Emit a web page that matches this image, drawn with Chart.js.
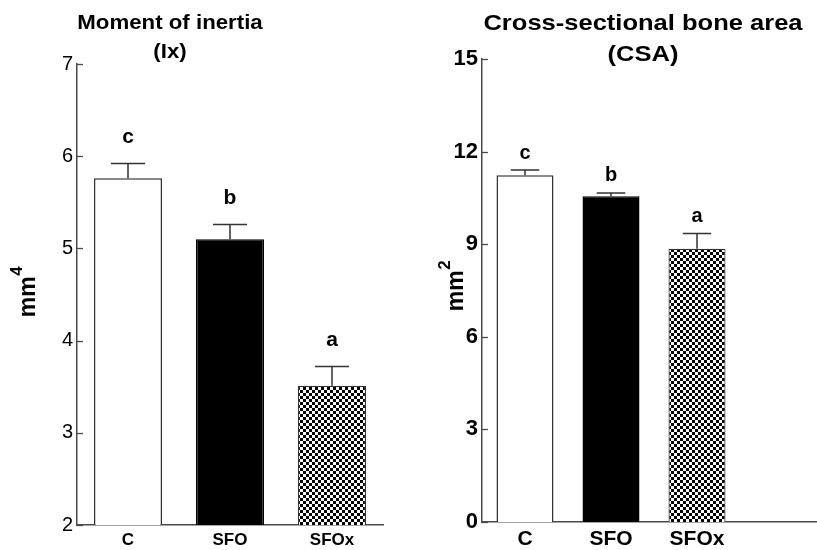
<!DOCTYPE html>
<html>
<head>
<meta charset="utf-8">
<script src="https://cdn.jsdelivr.net/npm/chart.js@4.4.1/dist/chart.umd.min.js"></script>
<style>
  html, body { margin: 0; padding: 0; background: #fff; overflow: hidden; width: 817px; height: 550px; }
  #c1 { position: absolute; left: 0; top: 0; }
  #c2 { position: absolute; left: 410px; top: 0; }
</style>
</head>
<body>
<canvas id="c1" width="410" height="550"></canvas>
<canvas id="c2" width="420" height="550"></canvas>
<script>
// ---- data ----
const categories = ['C', 'SFO', 'SFOx'];
const inertiaMean = [5.76, 5.10, 3.51];
const inertiaErr = [0.16, 0.16, 0.21];
const csaMean = [11.23, 10.55, 8.85];
const csaErr = [0.17, 0.11, 0.50];
const sigLetters = ['c', 'b', 'a'];
const inertiaTicks = [2, 3, 4, 5, 6, 7];
const csaTicks = [0, 3, 6, 9, 12, 15];
const inertiaTitle = ['Moment of inertia', '(Ix)'];
const csaTitle = ['Cross-sectional bone area', '(CSA)'];
const inertiaUnit = ['mm', '4'];
const csaUnit = ['mm', '2'];

const FONT = "'Liberation Sans', Arial, sans-serif";

function checker(cell) {
  const c = document.createElement('canvas');
  c.width = c.height = cell * 2;
  const g = c.getContext('2d');
  g.fillStyle = '#fff'; g.fillRect(0, 0, cell * 2, cell * 2);
  g.fillStyle = '#000'; g.fillRect(0, 0, cell, cell); g.fillRect(cell, cell, cell, cell);
  return g.createPattern(c, 'repeat');
}

const decorPlugin = {
  id: 'decor',
  afterDatasetsDraw(chart, args, o) {
    const ctx = chart.ctx;
    const ys = chart.scales.y;
    const area = chart.chartArea;
    const meta = chart.getDatasetMeta(0);
    ctx.save();
    // inside tick marks
    ctx.strokeStyle = '#4a4a4a';
    ctx.lineWidth = 1.3;
    ys.ticks.forEach((t, i) => {
      const y = Math.round(ys.getPixelForTick(i)) + 0.5;
      ctx.beginPath(); ctx.moveTo(area.left, y); ctx.lineTo(area.left + 6, y); ctx.stroke();
    });
    // error bars + letters
    meta.data.forEach((el, i) => {
      const topV = o.means[i] + o.errs[i];
      const yTop = ys.getPixelForValue(topV);
      const yBar = ys.getPixelForValue(o.means[i]);
      const half = el.width / 4;
      ctx.strokeStyle = '#333';
      ctx.lineWidth = 1.5;
      ctx.beginPath();
      ctx.moveTo(el.x, yBar); ctx.lineTo(el.x, yTop);
      ctx.moveTo(el.x - half, yTop); ctx.lineTo(el.x + half, yTop);
      ctx.stroke();
      ctx.fillStyle = '#000';
      ctx.font = 'bold ' + o.letterSize + 'px ' + FONT;
      ctx.textAlign = 'center';
      ctx.textBaseline = 'middle';
      ctx.fillText(o.letters[i], el.x, yTop - o.letterGap);
    });
    // title
    ctx.fillStyle = '#000';
    ctx.font = 'bold ' + o.titleSize + 'px ' + FONT;
    ctx.textAlign = 'center';
    ctx.textBaseline = 'middle';
    o.title.forEach((line, k) => {
      ctx.save();
      ctx.translate(o.titleX, o.titleY[k]);
      ctx.scale(o.titleScale, 1);
      ctx.fillText(line, 0, 0);
      ctx.restore();
    });
    // y unit label (rotated, with superscript)
    ctx.save();
    ctx.translate(o.unitX, o.unitY);
    ctx.rotate(-Math.PI / 2);
    ctx.textAlign = 'left';
    ctx.textBaseline = 'alphabetic';
    ctx.font = 'bold 23px ' + FONT;
    const w1 = ctx.measureText(o.unit[0]).width;
    ctx.font = 'bold 17px ' + FONT;
    const w2 = ctx.measureText(o.unit[1]).width;
    const start = -(w1 + w2) / 2;
    ctx.font = 'bold 23px ' + FONT;
    ctx.fillText(o.unit[0], start, 5);
    ctx.font = 'bold 17px ' + FONT;
    ctx.fillText(o.unit[1], start + w1 + 0.5, -8);
    ctx.restore();
    ctx.restore();
  }
};

function makeChart(id, cfg) {
  return new Chart(document.getElementById(id), {
    type: 'bar',
    data: {
      labels: cfg.labels,
      datasets: [{
        data: cfg.means,
        backgroundColor: ['#ffffff', '#000000', checker(3)],
        borderColor: ['#333333', '#000000', '#333333'],
        borderWidth: [1.5, 1.5, 1.2],
        barPercentage: cfg.barPct,
        categoryPercentage: 1
      }]
    },
    options: {
      responsive: false,
      animation: false,
      devicePixelRatio: 1,
      layout: { padding: { top: cfg.top, right: cfg.right, left: 0, bottom: 0 } },
      plugins: {
        legend: { display: false },
        tooltip: { enabled: false },
        title: { display: false },
        decor: cfg.decor
      },
      scales: {
        x: {
          grid: { display: false, drawTicks: false },
          border: { display: true, color: '#4a4a4a', width: 1.5 },
          ticks: { color: '#000', font: { family: FONT, size: cfg.xFont, weight: 'bold' }, padding: cfg.xPad, maxRotation: 0, autoSkip: false },
          afterFit: s => { s.height = cfg.xH; }
        },
        y: {
          min: cfg.ticks[0],
          max: cfg.ticks[cfg.ticks.length - 1],
          afterBuildTicks: s => { s.ticks = cfg.ticks.map(v => ({ value: v })); },
          grid: { display: false, drawTicks: false },
          border: { display: true, color: '#4a4a4a', width: 1.5 },
          ticks: { color: '#000', font: { family: FONT, size: cfg.yFont, weight: cfg.yWeight }, padding: 4 },
          afterFit: s => { s.width = cfg.yW; }
        }
      }
    },
    plugins: [decorPlugin]
  });
}

makeChart('c1', {
  labels: categories,
  means: inertiaMean,
  barPct: 0.667,
  top: 64, right: 27,
  xFont: 17, xPad: 5, xH: 25,
  yFont: 20, yWeight: 'normal', yW: 77,
  ticks: inertiaTicks,
  decor: {
    means: inertiaMean, errs: inertiaErr, letters: sigLetters,
    letterSize: 21, letterGap: 26,
    title: inertiaTitle, titleSize: 21, titleScale: 1.06, titleX: 170, titleY: [23, 52],
    unit: inertiaUnit, unitX: 30, unitY: 292
  }
});

makeChart('c2', {
  labels: categories.concat(['']),
  means: csaMean,
  barPct: 0.663,
  top: 59, right: 4,
  xFont: 21, xPad: 5, xH: 28,
  yFont: 22, yWeight: 'bold', yW: 72,
  ticks: csaTicks,
  decor: {
    means: csaMean, errs: csaErr, letters: sigLetters,
    letterSize: 20, letterGap: 17,
    title: csaTitle, titleSize: 22, titleScale: 1.16, titleX: 233, titleY: [24, 55],
    unit: csaUnit, unitX: 48, unitY: 286
  }
});
</script>
</body>
</html>
